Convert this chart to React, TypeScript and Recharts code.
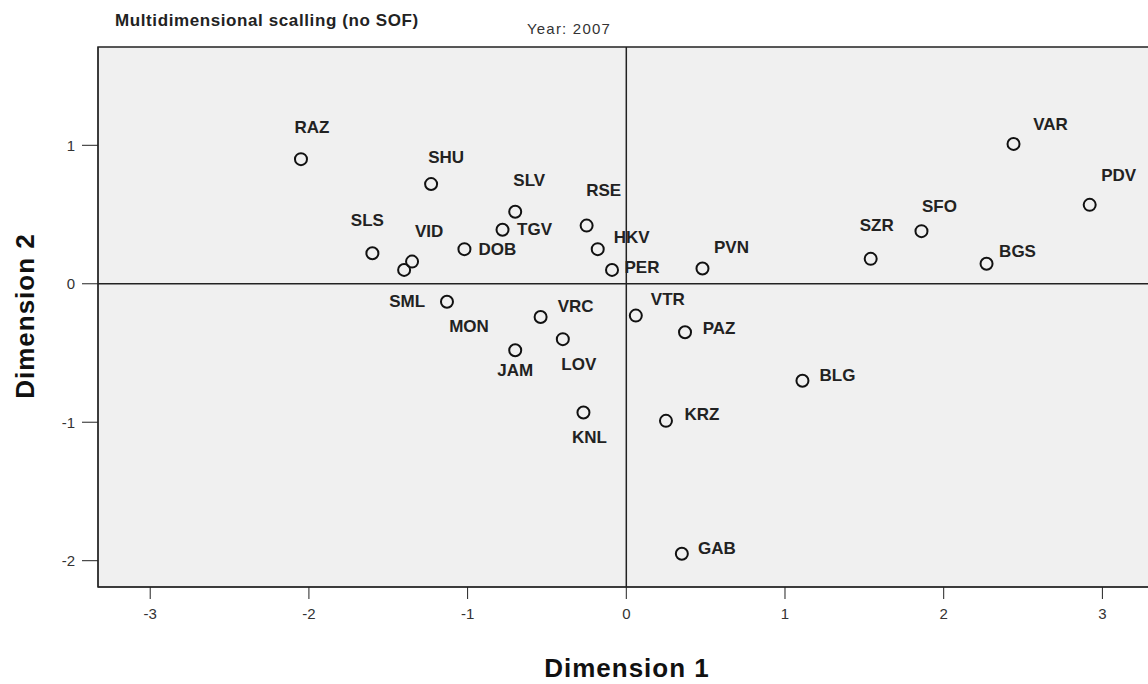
import React from "react";
import {
  ScatterChart,
  Scatter,
  XAxis,
  YAxis,
  ReferenceArea,
  ReferenceLine,
} from "recharts";

// MDS coordinates
const codes = [
  "RAZ", "SHU", "SLV", "RSE", "TGV", "SLS", "VID", "SML", "DOB", "HKV",
  "PER", "PVN", "VTR", "MON", "VRC", "LOV", "JAM", "PAZ", "KNL", "KRZ",
  "BLG", "GAB", "SZR", "SFO", "BGS", "VAR", "PDV",
];
const dim1 = [
  -2.05, -1.23, -0.7, -0.25, -0.78, -1.6, -1.35, -1.4, -1.02, -0.18,
  -0.09, 0.48, 0.06, -1.13, -0.54, -0.4, -0.7, 0.37, -0.27, 0.25,
  1.11, 0.35, 1.54, 1.86, 2.27, 2.44, 2.92,
];
const dim2 = [
  0.9, 0.72, 0.52, 0.42, 0.39, 0.22, 0.16, 0.1, 0.25, 0.25,
  0.1, 0.11, -0.23, -0.13, -0.24, -0.4, -0.48, -0.35, -0.93, -0.99,
  -0.7, -1.95, 0.18, 0.38, 0.145, 1.01, 0.57,
];
const xTicks = [-3, -2, -1, 0, 1, 2, 3];
const yTicks = [-2, -1, 0, 1];
const xDomain = [-3.329, 3.363];
const yDomain = [-2.19, 1.71];

// where each label sits relative to its marker (px)
const labelOffset: Record<string, [number, number]> = {
  RAZ: [11, -32], SHU: [15, -27], SLV: [14, -31], RSE: [17, -35],
  TGV: [32, 0], SLS: [-5, -33], VID: [17, -30], SML: [3, 32],
  DOB: [33, 0], HKV: [34, -12], PER: [30, -2], PVN: [29, -21],
  VTR: [32, -16], MON: [22, 25], VRC: [35, -11], LOV: [16, 25],
  JAM: [0, 20], PAZ: [34, -4], KNL: [6, 25], KRZ: [36, -6],
  BLG: [35, -5], GAB: [35, -5], SZR: [6, -33], SFO: [18, -25],
  BGS: [31, -12], VAR: [37, -19], PDV: [29, -29],
};

const points = codes.map((code, i) => ({ code, x: dim1[i], y: dim2[i] }));

const renderPoint = (props: any) => {
  const { cx, cy, payload } = props;
  const off = labelOffset[payload.code] || [20, 0];
  return (
    <g>
      <circle cx={cx} cy={cy} r={6} fill="none" stroke="#111" strokeWidth={2} />
      <text
        x={cx + off[0]}
        y={cy + off[1]}
        textAnchor="middle"
        dominantBaseline="central"
        fontFamily="Liberation Sans, Arial, sans-serif"
        fontWeight="bold"
        fontSize={17}
        fill="#222"
      >
        {payload.code}
      </text>
    </g>
  );
};

const tickStyle = {
  fontFamily: "Liberation Sans, Arial, sans-serif",
  fontSize: 15,
  fill: "#333",
};

export default function App() {
  return (
    <div
      style={{
        position: "absolute",
        left: 0,
        top: 0,
        width: 1148,
        height: 684,
        overflow: "hidden",
        background: "#fff",
        fontFamily: "Liberation Sans, Arial, sans-serif",
      }}
    >
      <div
        style={{
          position: "absolute",
          left: 115,
          top: 11,
          fontSize: 17,
          letterSpacing: 0.6,
          fontWeight: "bold",
          color: "#222",
          whiteSpace: "nowrap",
        }}
      >
        Multidimensional scalling (no SOF)
      </div>
      <div
        style={{
          position: "absolute",
          left: 527,
          top: 20,
          fontSize: 15,
          letterSpacing: 1.2,
          color: "#333",
          whiteSpace: "nowrap",
        }}
      >
        Year: 2007
      </div>
      <div
        style={{
          position: "absolute",
          left: 627,
          top: 668,
          transform: "translate(-50%, -50%)",
          fontSize: 26,
          letterSpacing: 1,
          fontWeight: "bold",
          color: "#111",
          whiteSpace: "nowrap",
        }}
      >
        Dimension 1
      </div>
      <div
        style={{
          position: "absolute",
          left: 25,
          top: 316,
          transform: "translate(-50%, -50%) rotate(-90deg)",
          fontSize: 26,
          letterSpacing: 1,
          fontWeight: "bold",
          color: "#111",
          whiteSpace: "nowrap",
        }}
      >
        Dimension 2
      </div>
      <ScatterChart
        width={1160}
        height={684}
        margin={{ top: 47, right: 0, bottom: 0, left: 0 }}
        style={{ position: "absolute", left: 0, top: 0 }}
      >
        <XAxis
          type="number"
          dataKey="x"
          domain={xDomain}
          ticks={xTicks}
          allowDataOverflow
          height={97}
          tickSize={12}
          tickMargin={9}
          stroke="#222"
          tick={tickStyle}
        />
        <YAxis
          type="number"
          dataKey="y"
          domain={yDomain}
          ticks={yTicks}
          allowDataOverflow
          width={98}
          tickSize={16}
          tickMargin={7}
          stroke="#222"
          tick={tickStyle}
        />
        <ReferenceArea
          x1={xDomain[0]}
          x2={xDomain[1]}
          y1={yDomain[0]}
          y2={yDomain[1]}
          fill="#f0f0f0"
          fillOpacity={1}
          stroke="#222"
          strokeWidth={1.5}
        />
        <ReferenceLine x={0} stroke="#222" strokeWidth={1.5} />
        <ReferenceLine y={0} stroke="#222" strokeWidth={1.5} />
        <Scatter data={points} shape={renderPoint} isAnimationActive={false} />
      </ScatterChart>
    </div>
  );
}
